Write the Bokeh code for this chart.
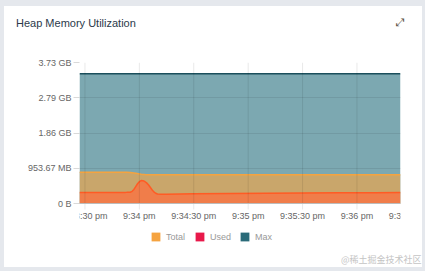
import math
import pandas as pd
from bokeh.plotting import figure
from bokeh.models import Range1d, FixedTicker, Legend, LegendItem, Span, Div, Title
from bokeh.layouts import column
from bokeh.embed import file_html
from bokeh.resources import INLINE
from bokeh.core.properties import value

# ---------------- data ----------------
DAY = "2023-01-01 "
times = ["21:33:27", "21:33:35", "21:33:45", "21:33:52", "21:33:53", "21:33:55",
         "21:33:56", "21:33:57", "21:33:58", "21:33:59", "21:34:00", "21:34:01",
         "21:34:02", "21:34:03", "21:34:04", "21:34:05", "21:34:06", "21:34:07",
         "21:34:08", "21:34:09", "21:34:10", "21:34:12", "21:34:15", "21:34:30",
         "21:34:50", "21:35:10", "21:35:30", "21:35:50", "21:36:10", "21:36:24"]
used_gb = [0.312, 0.312, 0.314, 0.315, 0.316, 0.320,
           0.345, 0.40, 0.48, 0.56, 0.62, 0.65,
           0.648, 0.625, 0.585, 0.53, 0.46, 0.39,
           0.33, 0.29, 0.268, 0.262, 0.265, 0.275,
           0.285, 0.292, 0.300, 0.304, 0.308, 0.310]
total_gb = [0.888, 0.888, 0.888, 0.887, 0.885, 0.878,
            0.872, 0.865, 0.857, 0.848, 0.840, 0.832,
            0.826, 0.820, 0.816, 0.815, 0.814, 0.814,
            0.814, 0.814, 0.814, 0.814, 0.814, 0.814,
            0.814, 0.814, 0.814, 0.814, 0.814, 0.814]
max_gb = [3.68] * len(times)

y_ticks = [0, 1_000_000_000, 2_000_000_000, 3_000_000_000, 4_000_000_000]
y_tick_labels = ["0 B", "953.67 MB", "1.86 GB", "2.79 GB", "3.73 GB"]

x_tick_times = ["21:33:30", "21:34:00", "21:34:30", "21:35:00", "21:35:30", "21:36:00", "21:36:30"]
x_tick_labels = ["9:33:30 pm", "9:34 pm", "9:34:30 pm", "9:35 pm", "9:35:30 pm", "9:36 pm", "9:36:30 pm"]

series_names = ["Total", "Used", "Max"]
legend_colors = ["#f5a340", "#e8194a", "#2a6b79"]

title_text = "Heap Memory Utilization"
watermark_text = "@稀土掘金技术社区"

# ---------------- build ----------------
t = pd.to_datetime([DAY + s for s in times])
xt = pd.to_datetime([DAY + s for s in x_tick_times])
used = [v * 1e9 for v in used_gb]
total = [v * 1e9 for v in total_gb]
mx = [v * 1e9 for v in max_gb]

W = 418
HEAD = 44
H = 217
top_px, zero_px, bottom_px = 12, 153, 200       # frame top, zero line, frame bottom (figure px)
per_px = y_ticks[-1] / (zero_px - top_px)
y_start = -(bottom_px - zero_px) * per_px

header = Div(
    text=(
        '<div style="position:relative;width:418px;height:44px;font-family:\'Liberation Sans\',Arial,sans-serif;">'
        f'<span style="position:absolute;left:12px;top:11px;font-size:11px;line-height:12px;color:#2b3a4a;white-space:nowrap;">{title_text}</span>'
        '<span style="position:absolute;left:392px;top:11px;font-size:11px;line-height:12px;color:#5e5246;font-family:\'DejaVu Sans\';">&#10530;</span>'
        '</div>'
    ),
    width=W, height=HEAD, margin=0,
    styles={"background-color": "white"},
)

p = figure(width=W, height=H, output_backend="svg", toolbar_location=None,
           x_axis_type="datetime", x_axis_location=None,
           x_range=Range1d(t[0], t[-1]), y_range=Range1d(y_start, y_ticks[-1]),
           min_border_left=75, min_border_right=W - 396, min_border_top=top_px,
           min_border_bottom=H - bottom_px, outline_line_color=None,
           background_fill_color="white", border_fill_color="white", margin=0)
p.xgrid.visible = False

# y axis
ya = p.yaxis[0]
ya.ticker = FixedTicker(ticks=y_ticks)
ya.major_label_overrides = {k: v for k, v in zip(y_ticks, y_tick_labels)}
ya.axis_line_color = None
ya.major_tick_in = 0
ya.major_tick_out = 6
ya.major_tick_line_color = "#d9d9d9"
ya.minor_tick_line_color = None
ya.major_label_text_font_size = "9px"
ya.major_label_text_color = "#666666"
ya.major_label_text_font = "Liberation Sans"
ya.major_label_standoff = 2

p.ygrid.ticker = FixedTicker(ticks=y_ticks)
p.ygrid.grid_line_color = "black"
p.ygrid.grid_line_alpha = 0.08
p.ygrid.level = "overlay"

# areas
p.varea(x=t, y1=0, y2=mx, fill_color="#7ca8b1")
p.line(x=t, y=mx, line_color="#1b4f5c", line_width=1.5)
p.varea(x=t, y1=0, y2=total, fill_color="#c9a66b")
p.line(x=t, y=total, line_color="#f5a33f", line_width=1.5)
p.varea(x=t, y1=0, y2=used, fill_color="#f07d4a")
p.line(x=t, y=used, line_color="#ff5b24", line_width=1.5)

# vertical grid lines and x ticks
p.segment(x0=xt, y0=-6 * per_px, x1=xt, y1=y_ticks[-1], line_color="black", line_alpha=0.09, line_width=1)
p.add_layout(Span(location=0, dimension="width", line_color="#cccccc", line_width=1))
p.text(x=xt, y=[0] * len(xt), text=x_tick_labels, y_offset=12, text_align="center",
       text_baseline="middle", text_font_size="9px", text_color="#666666",
       text_font=value("Liberation Sans"))

# legend (icons only)
dummies = [p.varea(x=[t[0]], y1=[math.nan], y2=[math.nan], fill_color=c) for c in legend_colors]
legend = Legend(items=[LegendItem(label=n, renderers=[r]) for n, r in zip(series_names, dummies)],
                orientation="horizontal", location=(71, 8), border_line_color=None,
                background_fill_alpha=0, label_text_font_size="9px", label_text_color="#999999",
                label_text_font="Liberation Sans", glyph_width=11, glyph_height=11,
                label_height=11, spacing=8, label_standoff=5, padding=0, margin=0)
p.add_layout(legend)

# watermark
p.add_layout(Title(text=watermark_text, align="right", offset=-21, standoff=0,
                   text_font_size="9px", text_color="#c4c4c4", text_font_style="normal",
                   text_font="Noto Sans CJK SC"), "below")

card = column(header, p, spacing=0, margin=0, styles={"background-color": "white"})
layout = column(card, margin=0, styles={"background-color": "#e5e8ed", "padding": "6px 3px 4px 4px"})
open("out.html", "w").write(file_html(layout, INLINE))
